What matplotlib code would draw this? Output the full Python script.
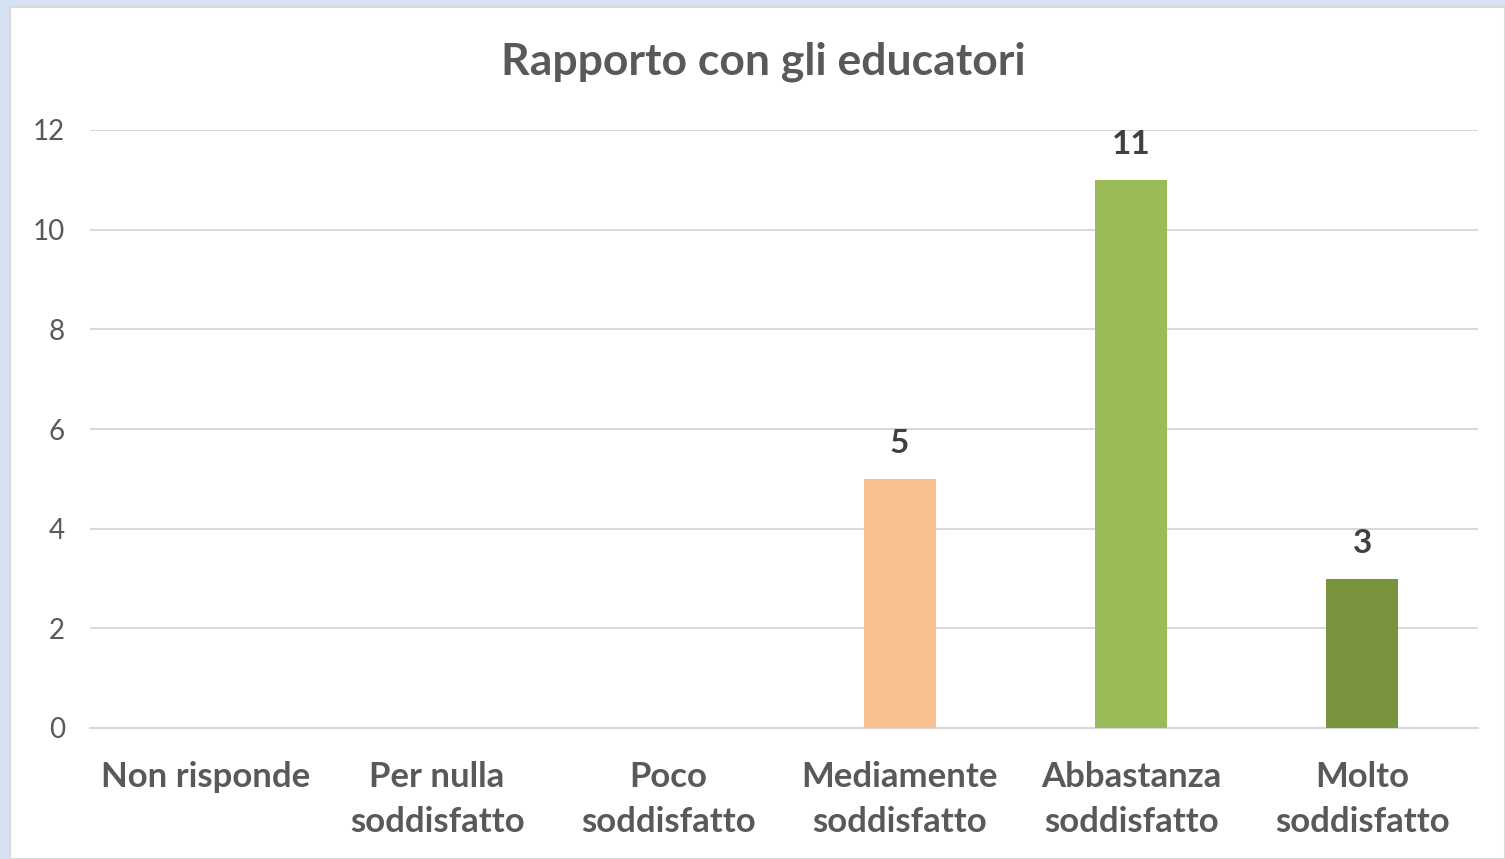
import matplotlib.pyplot as plt
from matplotlib.patches import Rectangle

categories = ["Non risponde", "Per nulla\nsoddisfatto", "Poco\nsoddisfatto",
              "Mediamente\nsoddisfatto", "Abbastanza\nsoddisfatto", "Molto\nsoddisfatto"]
values = [0, 0, 0, 5, 11, 3]
colors = ["#4F81BD", "#C0504D", "#F79646", "#F9C08F", "#9BBB59", "#77933C"]

plt.rcParams['font.family'] = ['Lato', 'DejaVu Sans']

W, H = 1505, 859
fig = plt.figure(figsize=(W / 100, H / 100), dpi=100)
fig.patch.set_facecolor("#D4E2F4")
# white chart area with thin grey frame
fig.patches.append(Rectangle((10 / W, 0), 1 - 10 / W, 1 - 7 / H, transform=fig.transFigure,
                             facecolor="white", edgecolor="#D9D9D9", lw=1.5, zorder=-1))

ax = fig.add_axes([90 / W, 1 - 728 / H, (1478 - 90) / W, (728 - 130) / H])
ax.set_zorder(1)
ax.set_facecolor("none")
x = range(len(categories))
bars = ax.bar(x, values, width=0.31, color=colors, zorder=3)
for b, v in zip(bars, values):
    if v > 0:
        ax.text(b.get_x() + b.get_width() / 2, v + 0.42, str(v), ha="center", va="bottom",
                fontsize=24, fontweight="bold", color="#404040")

ax.set_xlim(-0.5, len(categories) - 0.5)
ax.set_ylim(0, 12)
ax.set_yticks(range(0, 13, 2))
ax.grid(axis="y", color="#D9D9D9", lw=1.5, zorder=0)
for s in ["top", "right", "left"]:
    ax.spines[s].set_visible(False)
ax.spines["bottom"].set_color("#D9D9D9")
ax.spines["bottom"].set_linewidth(1.5)
ax.tick_params(length=0)
ax.tick_params(axis="y", labelsize=20, labelcolor="#595959", pad=18)
ax.set_xticks(list(x))
ax.set_xticklabels(categories, fontsize=25, fontweight="bold", color="#595959",
                   linespacing=1.5)
ax.tick_params(axis="x", pad=24)

fig.text(763 / W, 1 - 62 / H, "Rapporto con gli educatori", ha="center",
         va="center", fontsize=32, fontweight="bold", color="#595959")

fig.savefig("out.png", dpi=100)
